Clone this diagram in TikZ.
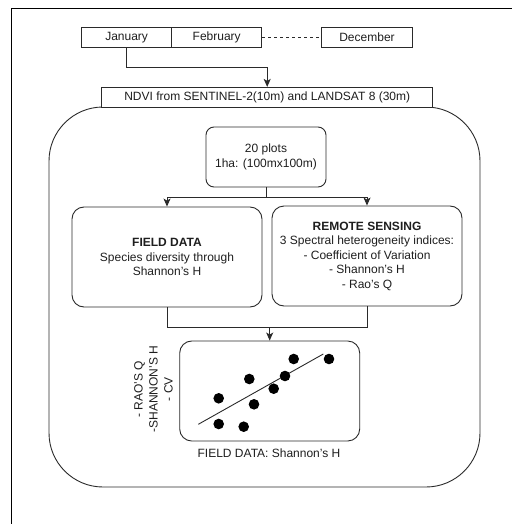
\documentclass[tikz,border=0pt]{standalone}
\usepackage{fontspec}
\setmainfont{Liberation Sans}
\usetikzlibrary{arrows.meta,calc}
\definecolor{ln}{HTML}{2A2A2A}
\definecolor{tx}{HTML}{1E1E1E}
\tikzset{
  box/.style={draw=ln, line width=0.9pt, inner sep=0pt, align=center, text=tx,
    font=\fontsize{12}{14.5}\selectfont},
  month/.style={box, minimum width=90pt, minimum height=19.6pt},
  rbox/.style={box, rounded corners=12pt},
  arr/.style={draw=ln, line width=0.9pt, -{Stealth[length=8pt,width=7pt,inset=2pt]}},
  con/.style={draw=ln, line width=0.9pt},
  dot/.style={fill=black}
}
\begin{document}
\begin{tikzpicture}[x=1pt,y=-1pt]
\useasboundingbox (0,0) rectangle (512,524);
\draw[line width=1pt] (11,524) -- (11,9) -- (512,9);

\node[box, rounded corners=54pt, minimum width=431pt, minimum height=380pt] (big) at (264.5,297) {};
\node[month] (jan) at (126.6,37.5) {January};
\node[month] (feb) at (216.7,37.5) {February};
\node[month, minimum width=90.7pt] (dec) at (367,37.5) {December};
\node[box, fill=white, minimum width=331pt, minimum height=19.7pt] (ndvi) at (267.2,97.2) {NDVI from SENTINEL-2(10m) and LANDSAT 8 (30m)};

\node[box, rounded corners=8pt, minimum width=120pt, minimum height=60pt] (plots) at (266,157) {20 plots\\1ha: (100mx100m)};
\node[rbox, minimum width=190pt, minimum height=100pt] (field) at (167,257) {\textbf{FIELD DATA}\\Species diversity through\\Shannon's H};
\node[rbox, minimum width=190pt, minimum height=100pt] (rs) at (367,256) {\textbf{REMOTE SENSING}\\3 Spectral heterogeneity indices:\\- Coefficient of Variation\\- Shannon's H\\- Rao's Q};
\node[rbox, minimum width=180pt, minimum height=100pt] (sc) at (269.7,391) {};
\node[box, draw=none] (xl) at (269,453) {FIELD DATA: Shannon's H};
\node[box, draw=none, rotate=90, font=\fontsize{12}{15}\selectfont] (yl) at (153.5,389) {- RAO'S Q\\-SHANNON'S H\\- CV};

\draw[con, dashed] (feb.east) -- (dec.west);
\draw[arr] (jan.south) -- ++(0,19.7) -| (ndvi.north);
\draw[con] (plots.south) -- ++(0,10) coordinate (split);
\draw[arr] (split) -| (field.north);
\draw[arr] (split) -| (rs.north);
\draw[con] (field.south) -- ++(0,20) coordinate (mL) -| (rs.south);
\draw[arr] (sc.north |- mL) -- (sc.north);

\draw[con] (198.3,424.3) -- (323.3,354);
\foreach \p in {(218.7,398.3),(218.7,424),(243.7,426.7),(249.3,379),(254,404.3),(273.7,388.7),(285,376),(293.7,359),(329,359)}
  \fill[dot] \p circle (5.3);
\end{tikzpicture}
\end{document}
